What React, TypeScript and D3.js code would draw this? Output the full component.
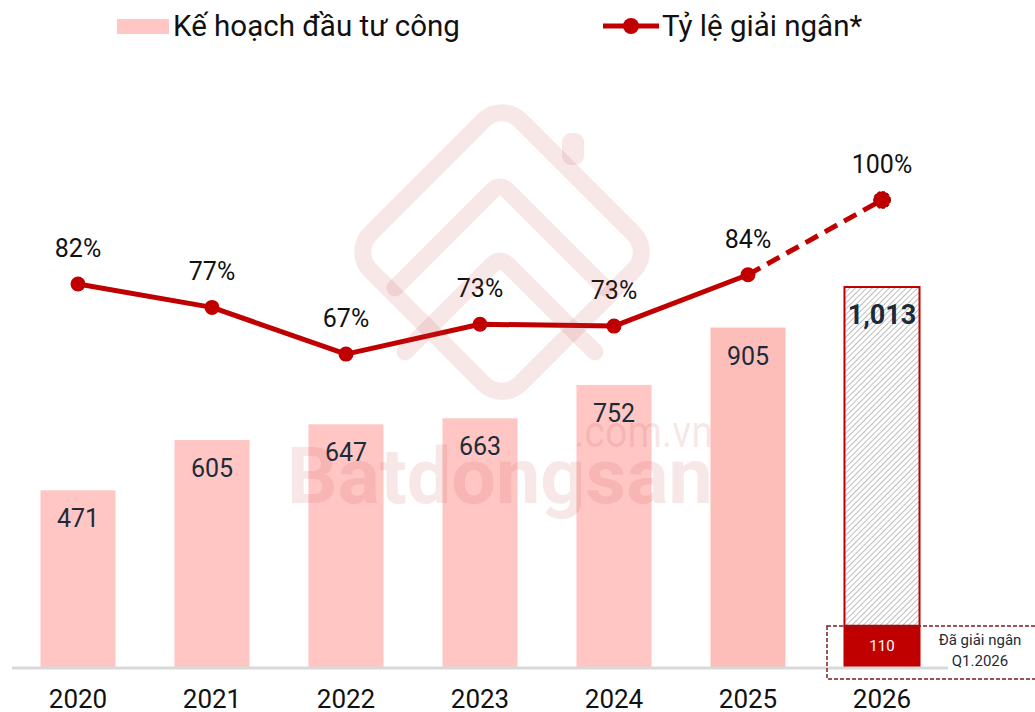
import React from "react";
import * as d3 from "d3";

const years = ["2020", "2021", "2022", "2023", "2024", "2025", "2026"];
const planValues = [471, 605, 647, 663, 752, 905, 1013];
const rateValues = [82, 77, 67, 73.4, 73, 84, 100];
const disbursedQ1 = 110;
const legendBar = "Kế hoạch đầu tư công";
const legendLine = "Tỷ lệ giải ngân*";
const noteLines = ["Đã giải ngân", "Q1.2026"];

const W = 1035;
const H = 712;
const FONT = "Roboto, 'Noto Sans', sans-serif";
const RED = "#c00000";
const PINK = "#ffc6c4";
const NAVY = "#1c2b3a";

export default function App() {
  const x = d3.scaleBand<string>().domain(years).range([11, 949]).paddingInner(0.44).paddingOuter(0.22);
  const yBar = d3.scaleLinear().domain([0, 1245]).range([667, 200]);
  const yRate = d3.scaleLinear().domain([0, 100]).range([667, 200]);
  const bw = x.bandwidth();
  const cx = (y: string) => (x(y) as number) + bw / 2;
  const last = years.length - 1;

  const lineGen = d3
    .line<number>()
    .x((_, i) => cx(years[i]))
    .y((d) => yRate(d));
  const solidPts = rateValues.slice(0, last);
  const solidPath = lineGen(solidPts) || "";
  const dashPath =
    d3
      .line<[number, number]>()
      .x((d) => d[0])
      .y((d) => d[1])([
      [cx(years[last - 1]), yRate(rateValues[last - 1])],
      [cx(years[last]), yRate(rateValues[last])],
    ]) || "";

  const base = yBar(0);
  const x26 = x(years[last]) as number;
  const top26 = yBar(planValues[last]);
  const q1Top = yBar(disbursedQ1);

  const wm = "rgba(190,60,60,0.12)";
  const side = 150 * Math.SQRT2;

  return (
    <svg width={W} height={H} style={{ position: "absolute", left: 0, top: 0, background: "#fff" }} fontFamily={FONT}>
      <defs>
        <pattern id="hatch" patternUnits="userSpaceOnUse" width="4" height="4" patternTransform="rotate(45)">
          <rect width="4" height="4" fill="#fff" />
          <line x1="0" y1="0" x2="0" y2="4" stroke="#9a9a9a" strokeWidth="1.3" />
        </pattern>
      </defs>

      {/* Legend */}
      <rect x={117} y={19} width={52} height={15} fill={PINK} />
      <text x={173} y={36} fontSize={29.5} fill="#111">{legendBar}</text>
      <line x1={603} x2={659} y1={26} y2={26} stroke={RED} strokeWidth={5} />
      <circle cx={631} cy={26} r={8} fill={RED} />
      <text x={662} y={36} fontSize={29.5} fill="#111">{legendLine}</text>

      {/* Bars */}
      {years.slice(0, last).map((yr, i) => (
        <rect key={yr} x={x(yr)} y={yBar(planValues[i])} width={bw} height={base - yBar(planValues[i])} fill={i === last - 1 ? "#fdbdb9" : PINK} />
      ))}
      {/* 2026 bar */}
      <rect x={x26} y={top26} width={bw} height={q1Top - top26} fill="url(#hatch)" stroke={RED} strokeWidth={2} />
      <rect x={x26 - 1} y={q1Top} width={bw + 2} height={base - q1Top} fill={RED} />

      {/* Axis */}
      <line x1={12} x2={948} y1={base + 1} y2={base + 1} stroke="#d9d9d9" strokeWidth={3} />

      {/* Dashed note box */}
      <rect x={827} y={626} width={240} height={53} fill="none" stroke="#7f1d1d" strokeWidth={1.5} strokeDasharray="4,2" />
      <text x={cx(years[last])} y={(q1Top + base) / 2 + 5} fontSize={15} fill="#fff" textAnchor="middle">{disbursedQ1}</text>
      <text x={980} y={645} fontSize={15} fill={NAVY} textAnchor="middle">{noteLines[0]}</text>
      <text x={980} y={666} fontSize={15} fill={NAVY} textAnchor="middle">{noteLines[1]}</text>

      {/* Bar value labels */}
      {years.map((yr, i) => (
        <text
          key={yr}
          x={cx(yr)}
          y={yBar(planValues[i]) + 37}
          fontSize={i === last ? 27 : 25}
          fontWeight={i === last ? 700 : 400}
          fill={NAVY}
          textAnchor="middle"
        >
          {d3.format(",")(planValues[i])}
        </text>
      ))}

      {/* Line */}
      <path d={solidPath} fill="none" stroke={RED} strokeWidth={5} strokeLinejoin="round" />
      <path d={dashPath} fill="none" stroke={RED} strokeWidth={5} strokeDasharray="14,8" />
      {rateValues.map((v, i) => (
        <circle key={years[i]} cx={cx(years[i])} cy={yRate(v)} r={i === last ? 8.5 : 7.5} fill={RED} stroke={i === last ? "#8b0000" : "none"} strokeDasharray={i === last ? "3,2" : undefined} />
      ))}
      {rateValues.map((v, i) => (
        <text key={years[i]} x={cx(years[i])} y={yRate(v) - 27} fontSize={25} fill="#111" textAnchor="middle">
          {Math.round(v)}%
        </text>
      ))}

      {/* Year labels */}
      {years.map((yr) => (
        <text key={yr} x={cx(yr)} y={708} fontSize={26} fill="#111" textAnchor="middle">{yr}</text>
      ))}

      {/* Watermark */}
      <g fill="none" stroke={wm} strokeWidth={17} strokeLinejoin="round" strokeLinecap="round">
        <rect x={502 - side / 2} y={252 - side / 2} width={side} height={side} rx={26} transform="rotate(45 502 252)" />
        <path d="M395,288 L492,191 Q500,183 508,191 L605,288" />
        <path d="M405,352 L492,265 Q500,257 508,265 L595,352" />
      </g>
      <rect x={562} y={133} width={22} height={32} rx={9} fill={wm} />
      <text x={287} y={503} fontSize={78} fontWeight={700} fill={wm} textLength={426} lengthAdjust="spacingAndGlyphs">Batdongsan</text>
      <text x={574} y={447} fontSize={44} fontWeight={400} fill={wm} textLength={139} lengthAdjust="spacingAndGlyphs">.com.vn</text>
    </svg>
  );
}
